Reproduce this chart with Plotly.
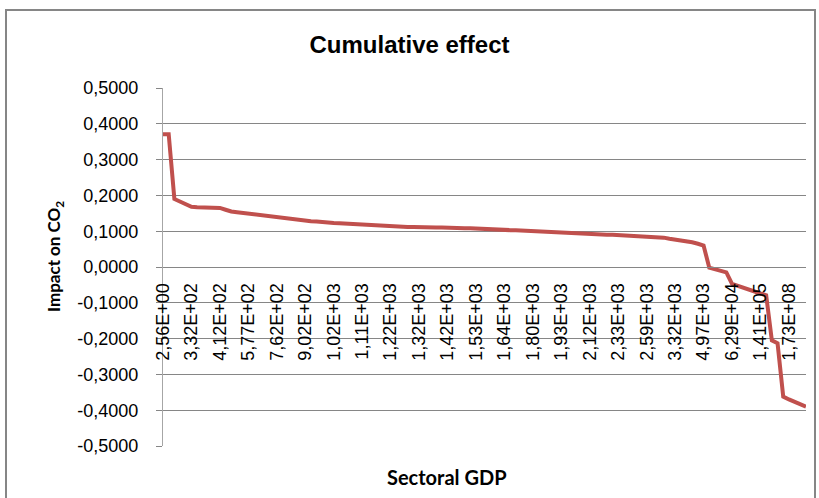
import plotly.graph_objects as go

# cumulative impact on CO2, one value per sector (sorted by sectoral GDP)
impact = [
    0.371, 0.371, 0.190, 0.182, 0.175, 0.168, 0.167, 0.167, 0.166, 0.166,
    0.165, 0.160, 0.155, 0.153, 0.151, 0.149, 0.146, 0.144, 0.142, 0.140,
    0.139, 0.137, 0.135, 0.134, 0.132, 0.130, 0.128, 0.127, 0.125, 0.124,
    0.123, 0.122, 0.121, 0.120, 0.119, 0.118, 0.118, 0.117, 0.116, 0.115,
    0.114, 0.113, 0.113, 0.112, 0.112, 0.111, 0.111, 0.110, 0.110, 0.110,
    0.109, 0.109, 0.108, 0.108, 0.108, 0.107, 0.106, 0.105, 0.105, 0.104,
    0.104, 0.103, 0.103, 0.102, 0.101, 0.101, 0.100, 0.100, 0.099, 0.098,
    0.097, 0.096, 0.095, 0.094, 0.093, 0.092, 0.092, 0.091, 0.090, 0.090,
    0.089, 0.089, 0.088, 0.088, 0.087, 0.086, 0.085, 0.083, 0.082, 0.079,
    0.077, 0.074, 0.072, 0.069, 0.065, 0.060, -0.002, -0.006, -0.011, -0.015,
    -0.047, -0.053, -0.058, -0.063, -0.069, -0.074, -0.079, -0.205, -0.213, -0.362,
    -0.370, -0.377, -0.384, -0.390,
]

# category labels shown on the x axis (every 5th sector)
gdp_labels = [
    "2,56E+00", "3,32E+02", "4,12E+02", "5,77E+02", "7,62E+02", "9,02E+02",
    "1,02E+03", "1,11E+03", "1,22E+03", "1,32E+03", "1,42E+03", "1,53E+03",
    "1,64E+03", "1,80E+03", "1,93E+03", "2,12E+03", "2,33E+03", "2,59E+03",
    "3,32E+03", "4,97E+03", "6,29E+04", "1,41E+05", "1,73E+08",
]
label_step = 5

y_ticks = [0.5, 0.4, 0.3, 0.2, 0.1, 0.0, -0.1, -0.2, -0.3, -0.4, -0.5]
y_labels = ["0,5000", "0,4000", "0,3000", "0,2000", "0,1000", "0,0000",
            "-0,1000", "-0,2000", "-0,3000", "-0,4000", "-0,5000"]

sector = list(range(len(impact)))

fig = go.Figure()
# invisible copy on the second x axis, so that axis (labels at y = 0) gets drawn
fig.add_trace(go.Scatter(x=sector, y=impact, xaxis="x2", mode="none",
                         hoverinfo="skip", showlegend=False))
fig.add_trace(go.Scatter(x=sector, y=impact, mode="lines",
                         line=dict(color="#C0504D", width=4), showlegend=False))

tick_font = dict(family="Liberation Sans, Arial", size=18, color="#000000")
grid = "#868686"

fig.update_layout(
    width=819, height=498,
    margin=dict(l=163, r=13, t=88, b=52),
    paper_bgcolor="white", plot_bgcolor="white",
    title=dict(text="<b>Cumulative effect</b>", x=0.5, xref="container",
               y=1 - 45 / 498, yref="container", yanchor="middle", xanchor="center",
               font=dict(family="Liberation Sans, Arial", size=24, color="#000000")),
    xaxis=dict(range=[0, len(impact) - 1], showgrid=False, zeroline=False,
               showline=False, showticklabels=False, ticks=""),
    # category labels sit under the horizontal axis, which crosses at y = 0
    xaxis2=dict(matches="x", overlaying="x", anchor="free", position=0.5,
                showgrid=False, zeroline=False,
                showline=True, linecolor=grid, linewidth=1,
                tickvals=list(range(0, label_step * len(gdp_labels), label_step)),
                ticktext=gdp_labels, tickangle=-90, ticks="",
                ticklabelstandoff=8, tickfont=tick_font),
    yaxis=dict(range=[-0.5, 0.5], tickvals=y_ticks, ticktext=y_labels,
               showgrid=True, gridcolor=grid, gridwidth=1, zeroline=False,
               showline=True, linecolor="#a6a6a6", linewidth=1,
               ticks="outside", ticklen=6, tickcolor=grid,
               ticklabelstandoff=14, tickfont=tick_font),
    shapes=[dict(type="rect", xref="paper", yref="paper",
                 x0=(6 - 163) / 643, x1=(815 - 163) / 643,
                 y0=-0.2, y1=(446 - 10) / 358,
                 line=dict(color=grid, width=2))],
    annotations=[
        dict(text="<b>Impact on CO<sub>2</sub></b>", textangle=-90,
             xref="paper", yref="paper", x=(55 - 163) / 643, y=(446 - 257) / 358,
             xanchor="center", yanchor="middle", showarrow=False,
             font=dict(family="Lato, Noto Sans", size=17, color="#000000")),
        dict(text="<b>Sectoral GDP</b>",
             xref="paper", yref="paper", x=(447 - 163) / 643, y=(446 - 477) / 358,
             xanchor="center", yanchor="middle", showarrow=False,
             font=dict(family="Lato, Noto Sans", size=20, color="#000000")),
    ],
)

fig.write_html("out.html", config={"displayModeBar": False},
               post_script="document.body.style.margin='0';")
